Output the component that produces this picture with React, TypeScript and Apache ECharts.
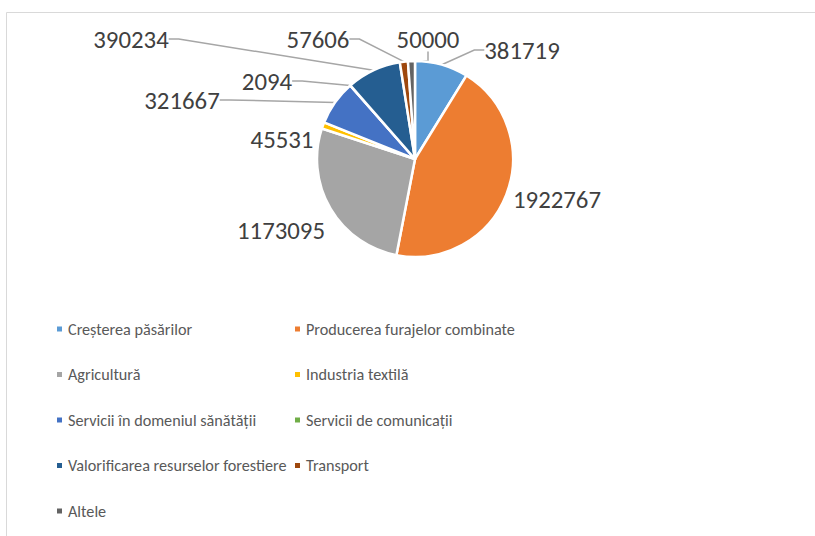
import React, { useEffect, useRef } from "react";
import * as echarts from "echarts";

const categories = [
  "Creșterea păsărilor",
  "Producerea furajelor combinate",
  "Agricultură",
  "Industria textilă",
  "Servicii în domeniul sănătății",
  "Servicii de comunicații",
  "Valorificarea resurselor forestiere",
  "Transport",
  "Altele",
];
const values = [381719, 1922767, 1173095, 45531, 321667, 2094, 390234, 57606, 50000];
const colors = ["#5B9BD5", "#ED7D31", "#A5A5A5", "#FFC000", "#4472C4", "#70AD47", "#255E91", "#9E480E", "#636363"];

// label centre positions (layout only)
const labelPos: [number, number][] = [
  [522, 50],
  [557, 199],
  [281, 230],
  [282, 139],
  [182, 100],
  [267, 81],
  [131, 39],
  [318, 39],
  [428, 39],
];
const noLine = [false, true, true, true, false, false, false, false, false];

const FONT = "Carlito, 'Liberation Sans', sans-serif";

export default function App() {
  const ref = useRef<HTMLDivElement>(null);
  useEffect(() => {
    if (!ref.current) return;
    const chart = echarts.init(ref.current, undefined, { renderer: "svg" });
    const legendText = { fontSize: 16.2, fontFamily: FONT, color: "#595959", lineHeight: 20 };
    const legendBase = {
      top: 319,
      orient: "vertical",
      icon: "rect",
      itemWidth: 7,
      itemHeight: 7,
      itemGap: 25.5,
      padding: 0,
      selectedMode: false,
      textStyle: legendText,
    };
    chart.setOption({
      animation: false,
      backgroundColor: "#ffffff",
      graphic: [
        {
          type: "rect",
          shape: { x: 6.5, y: 12.5, width: 900, height: 600 },
          style: { fill: "none", stroke: "#D9D9D9", lineWidth: 1 },
          silent: true,
        },
      ],
      legend: [
        { ...legendBase, left: 55, data: categories.filter((_, i) => i % 2 === 0) },
        { ...legendBase, left: 293, data: categories.filter((_, i) => i % 2 === 1) },
      ],
      series: [
        {
          type: "pie",
          center: [415, 159],
          radius: [0, 98],
          startAngle: 90,
          clockwise: true,
          avoidLabelOverlap: false,
          itemStyle: { borderColor: "#ffffff", borderWidth: 2.5 },
          label: {
            show: true,
            position: "outside",
            formatter: "{c}",
            fontSize: 24.8,
            fontFamily: FONT,
            color: "#404040",
          },
          labelLine: {
            show: true,
            length: 10,
            length2: 10,
            lineStyle: { color: "#A6A6A6", width: 1.5 },
          },
          labelLayout: (p: any) => {
            const pos = labelPos[p.dataIndex];
            return { x: pos[0], y: pos[1], align: "center", verticalAlign: "middle" };
          },
          data: categories.map((name, i) => ({
            name,
            value: values[i],
            itemStyle: { color: colors[i] },
            labelLine: noLine[i] ? { show: false } : undefined,
          })),
        },
      ],
    });
    return () => chart.dispose();
  }, []);
  return (
    <div
      ref={ref}
      style={{ position: "fixed", left: 0, top: 0, width: 815, height: 536 }}
    />
  );
}
